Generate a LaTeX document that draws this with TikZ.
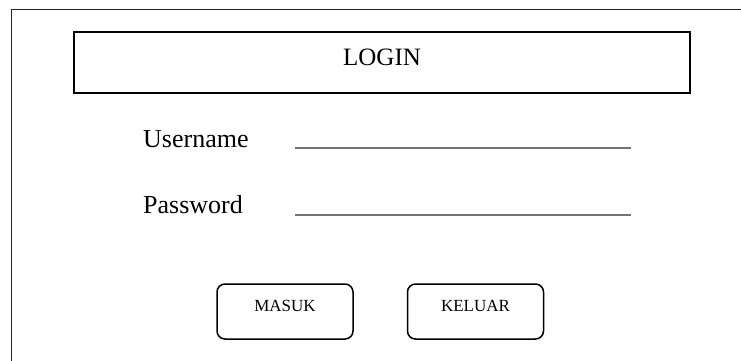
\documentclass[tikz,border=0pt]{standalone}
\usepackage{fontspec}
\setmainfont{Liberation Serif}
\usepackage{tikz}
\usetikzlibrary{calc}

\begin{document}
\begin{tikzpicture}[x=1pt,y=-1pt]
    \tikzset{TitleStyle/.style = {draw,line width=1.8pt,minimum width=616pt,minimum height=61pt,
        inner sep=0,font=\fontsize{25}{25}\selectfont,text height=16.5pt,text depth=11pt}}
    \tikzset{ButtonStyle/.style = {draw,line width=1.5pt,rounded corners=8pt,minimum width=136pt,
        minimum height=55pt,inner sep=0,font=\fontsize{17}{17}\selectfont,text height=11.3pt,text depth=11.3pt}}
    \tikzset{FieldStyle/.style = {anchor=base west,inner sep=0,font=\fontsize{26}{26}\selectfont}}
    \useasboundingbox (0,0) rectangle (741,360);
    \draw[line width=1.8pt,black!85] (11.5,362) -- (11.5,9.5) -- (743,9.5);

    \node[TitleStyle] at (382,62.5) (login) {LOGIN};

    \node[FieldStyle] at (143,147) (user) {Username};
    \node[FieldStyle] at (143,213) (pass) {Password};
    \coordinate (user-a) at (295,148);
    \coordinate (user-b) at (631,148);
    \coordinate (pass-a) at (295,215);
    \coordinate (pass-b) at (631,215);

    \path[draw,line width=1.6pt,black!55]
        (user-a) edge node {} (user-b)
        (pass-a) edge node {} (pass-b)
        ;

    \node[ButtonStyle] at (285,311.5) (masuk) {MASUK};
    \node[ButtonStyle] at (475.5,311.5) (keluar) {KELUAR};
\end{tikzpicture}
\end{document}
